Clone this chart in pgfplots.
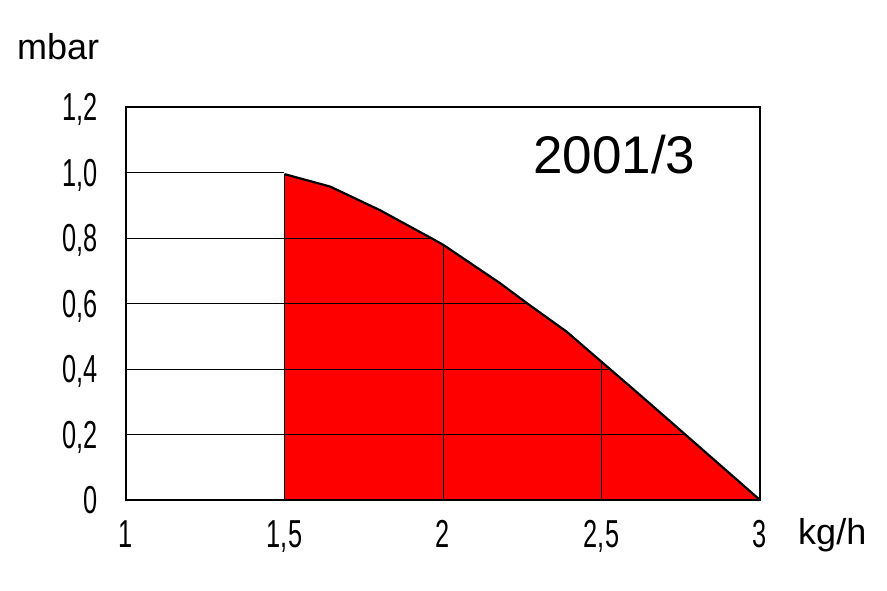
\documentclass[border=0pt]{standalone}
\usepackage{fontspec}
\setmainfont{Liberation Sans}
\newfontfamily\narrowfont[FakeStretch=0.65]{Liberation Sans}
\usepackage{pgfplots}
\pgfplotsset{compat=1.18}
\begin{document}
\begin{tikzpicture}
\begin{axis}[
    scale only axis,
    width=634pt, height=393pt,
    xmin=1, xmax=3, ymin=0, ymax=1.2,
    axis on top,
    axis line style={line width=2pt},
    clip=false,
    xtick={1,1.5,2,2.5,3},
    xticklabels={1,{1,5},2,{2,5},3},
    ytick={0,0.2,0.4,0.6,0.8,1.0,1.2},
    yticklabels={0,{0,2},{0,4},{0,6},{0,8},{1,0},{1,2}},
    major tick length=0pt,
    tick label style={font=\narrowfont\fontsize{39}{42}\selectfont, inner sep=0pt},
    xticklabel style={anchor=base, yshift=-48pt},
    yticklabel style={anchor=east, xshift=-28pt, text depth=0pt},
]
% filled area under the curve
\addplot[fill=red, draw=none] coordinates {
    (1.5,0) (1.5,0.995) (1.644,0.957) (1.801,0.885) (1.964,0.799) (2.001,0.779)
    (2.18,0.662) (2.269,0.598) (2.39,0.514) (2.50,0.422) (2.62,0.322)
    (2.75,0.212) (3,0)
} \closedcycle;
% grid segments
\addplot[black, line width=0.9pt] coordinates {(1,0.2) (2.764,0.2)};
\addplot[black, line width=0.9pt] coordinates {(1,0.4) (2.526,0.4)};
\addplot[black, line width=0.9pt] coordinates {(1,0.6) (2.269,0.6)};
\addplot[black, line width=0.9pt] coordinates {(1,0.8) (1.964,0.8)};
\addplot[black, line width=0.9pt] coordinates {(1,1.0) (1.5,1.0)};
\addplot[black, line width=0.9pt] coordinates {(1.5,0) (1.5,0.995)};
\addplot[black, line width=0.9pt] coordinates {(2,0) (2,0.78)};
\addplot[black, line width=0.9pt] coordinates {(2.5,0) (2.5,0.422)};
% curve outline
\addplot[black, line width=2.2pt, line join=round] coordinates {
    (1.5,0.995) (1.644,0.957) (1.801,0.885) (1.964,0.799) (2.001,0.779)
    (2.18,0.662) (2.269,0.598) (2.39,0.514) (2.50,0.422) (2.62,0.322)
    (2.75,0.212) (3,0)
};
\node[anchor=base west, inner sep=0pt, font=\fontsize{36}{40}\selectfont] at (rel axis cs:-0.172,1.1196) {mbar};
\node[anchor=base west, inner sep=0pt, font=\fontsize{36}{40}\selectfont] at (rel axis cs:1.06,-0.1145) {kg/h};
\node[anchor=base west, inner sep=0pt, font=\fontsize{53}{58}\selectfont] at (rel axis cs:0.642,0.832) {2001/3};
\end{axis}
\path ([xshift=-126pt,yshift=-91pt]current axis.south west) rectangle ([xshift=127pt,yshift=107pt]current axis.north east);
\end{tikzpicture}
\end{document}
